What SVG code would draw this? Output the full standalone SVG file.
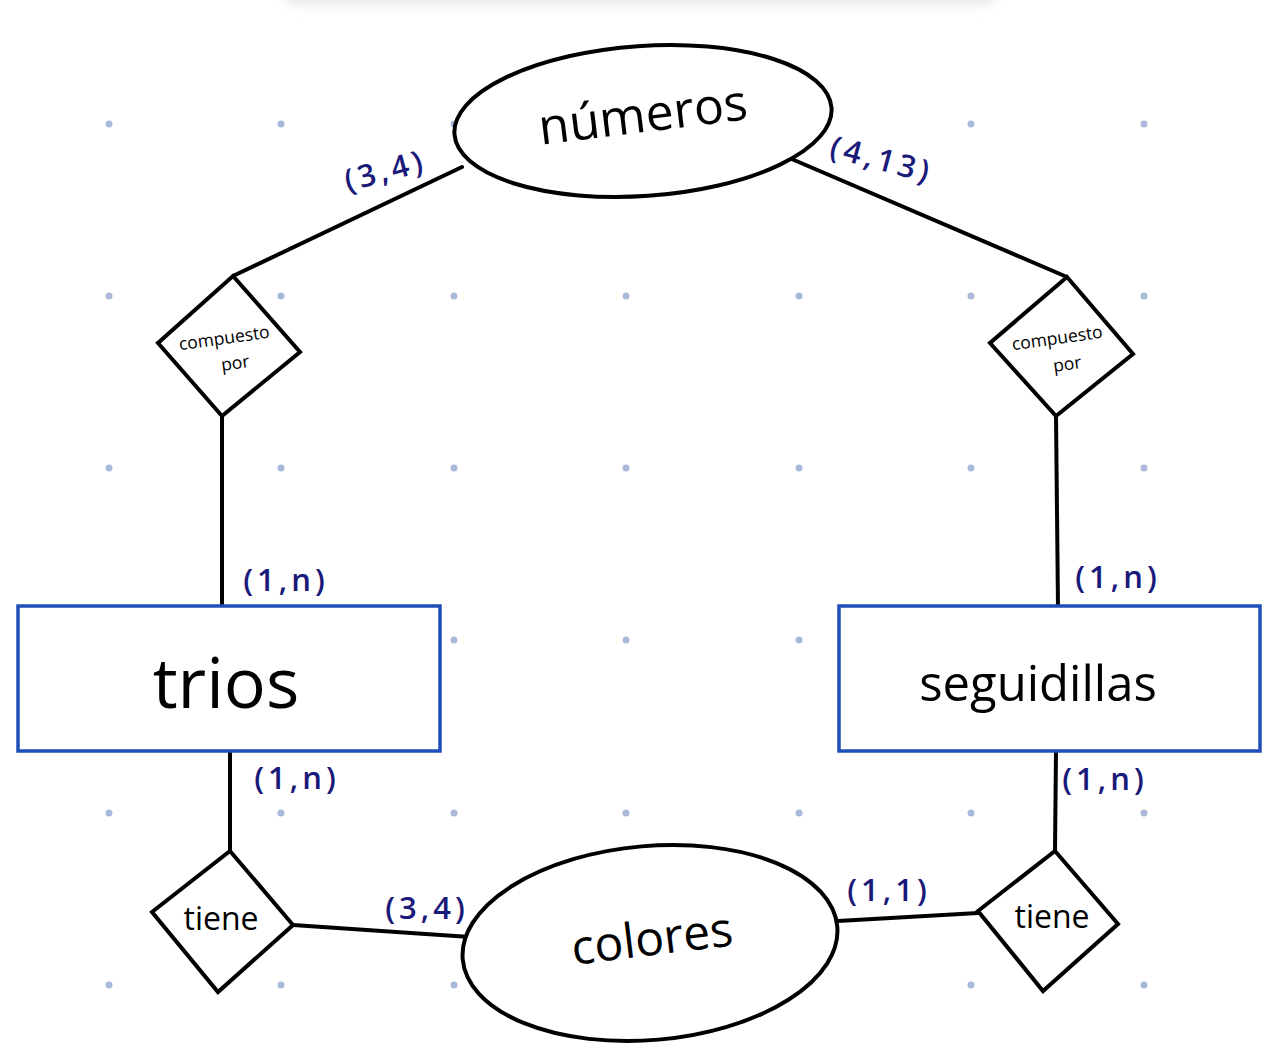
<svg xmlns="http://www.w3.org/2000/svg" width="1280" height="1061" viewBox="0 0 1280 1061">
<defs>
<filter id="blur" x="-10%" y="-200%" width="120%" height="500%">
<feGaussianBlur stdDeviation="6"/>
</filter>
<style>
.dot{fill:#a9b9d9}
.edge{stroke:#000;stroke-width:4;fill:none;stroke-linecap:round;stroke-linejoin:round}
.shape{stroke:#000;stroke-width:4;fill:#fff;stroke-linejoin:miter}
.ent{stroke:#1f4fb8;stroke-width:3.5;fill:#fff}
.lbl{font-family:"Open Sans","Liberation Sans",sans-serif;fill:#000;text-anchor:middle}
.card{font-family:"Open Sans","Liberation Sans",sans-serif;fill:#1a1a7a;font-size:31px;font-weight:600;letter-spacing:4px;text-anchor:middle}
</style>
</defs>
<rect width="1280" height="1061" fill="#fff"/>
<rect x="285" y="-20" width="710" height="24" rx="10" fill="#e4e4e4" filter="url(#blur)"/>
<g id="grid">
<g class="dot">
<circle cx="109" cy="124" r="3.5"/><circle cx="281" cy="124" r="3.5"/><circle cx="454" cy="124" r="3.5"/><circle cx="799" cy="124" r="3.5"/><circle cx="971" cy="124" r="3.5"/><circle cx="1144" cy="124" r="3.5"/>
<circle cx="109" cy="296" r="3.5"/><circle cx="281" cy="296" r="3.5"/><circle cx="454" cy="296" r="3.5"/><circle cx="626" cy="296" r="3.5"/><circle cx="799" cy="296" r="3.5"/><circle cx="971" cy="296" r="3.5"/><circle cx="1144" cy="296" r="3.5"/>
<circle cx="109" cy="468" r="3.5"/><circle cx="281" cy="468" r="3.5"/><circle cx="454" cy="468" r="3.5"/><circle cx="626" cy="468" r="3.5"/><circle cx="799" cy="468" r="3.5"/><circle cx="971" cy="468" r="3.5"/><circle cx="1144" cy="468" r="3.5"/>
<circle cx="454" cy="640" r="3.5"/><circle cx="626" cy="640" r="3.5"/><circle cx="799" cy="640" r="3.5"/>
<circle cx="109" cy="813" r="3.5"/><circle cx="281" cy="813" r="3.5"/><circle cx="454" cy="813" r="3.5"/><circle cx="626" cy="813" r="3.5"/><circle cx="799" cy="813" r="3.5"/><circle cx="971" cy="813" r="3.5"/><circle cx="1144" cy="813" r="3.5"/>
<circle cx="109" cy="985" r="3.5"/><circle cx="281" cy="985" r="3.5"/><circle cx="454" cy="985" r="3.5"/><circle cx="971" cy="985" r="3.5"/><circle cx="1144" cy="985" r="3.5"/>
</g>
</g>
<g id="connectors">
<path class="edge" d="M462,167 L233,276"/>
<path class="edge" d="M787,157 L1067,277"/>
<path class="edge" d="M222,416 L222,607"/>
<path class="edge" d="M1056,416 L1058,607"/>
<path class="edge" d="M230,751 L230,851"/>
<path class="edge" d="M1056,751 L1055,851"/>
<path class="edge" d="M293,925 L470,937"/>
<path class="edge" d="M838,921 L978,913"/>
</g>
<g id="numeros">
<ellipse class="shape" cx="643" cy="121" rx="189" ry="75" transform="rotate(-4 643 121)"/>
<text class="lbl" x="645" y="132" font-size="50" transform="rotate(-7 645 132)">números</text>
</g>
<g id="compuesto-izq">
<polygon class="shape" points="233,276 300,352 222,416 158,343"/>
<text class="lbl" x="225" y="344" font-size="17.5" transform="rotate(-8 225 344)">compuesto</text>
<text class="lbl" x="236" y="369" font-size="17.5" transform="rotate(-8 236 369)">por</text>
</g>
<g id="compuesto-der">
<polygon class="shape" points="1067,277 1133,354 1056,416 990,343"/>
<text class="lbl" x="1058" y="344" font-size="17.5" transform="rotate(-8 1058 344)">compuesto</text>
<text class="lbl" x="1068" y="370" font-size="17.5" transform="rotate(-8 1068 370)">por</text>
</g>
<g id="trios">
<rect class="ent" x="18" y="606" width="422" height="145"/>
<text class="lbl" x="226" y="708" font-size="70">trios</text>
</g>
<g id="seguidillas">
<rect class="ent" x="839" y="606" width="421" height="145"/>
<text class="lbl" x="1038" y="701" font-size="49">seguidillas</text>
</g>
<g id="tiene-izq">
<polygon class="shape" points="230,851 293,925 218,992 152,912"/>
<text class="lbl" x="221" y="930" font-size="32">tiene</text>
</g>
<g id="tiene-der">
<polygon class="shape" points="1055,851 1118,924 1043,991 978,911"/>
<text class="lbl" x="1052" y="928" font-size="32">tiene</text>
</g>
<g id="colores">
<ellipse class="shape" cx="650" cy="943" rx="188" ry="97" transform="rotate(-5 650 943)"/>
<text class="lbl" x="654" y="955" font-size="48" transform="rotate(-7 654 955)">colores</text>
</g>
<g id="cardinalidades">
<text class="card" x="388" y="181" transform="rotate(-15 388 181)">(3,4)</text>
<text class="card" x="879" y="170" transform="rotate(15 879 170)">(4,13)</text>
<text class="card" x="286" y="591">(1,n)</text>
<text class="card" x="1118" y="588">(1,n)</text>
<text class="card" x="297" y="789">(1,n)</text>
<text class="card" x="1105" y="790">(1,n)</text>
<text class="card" x="427" y="919">(3,4)</text>
<text class="card" x="889" y="901">(1,1)</text>
</g>
</svg>
